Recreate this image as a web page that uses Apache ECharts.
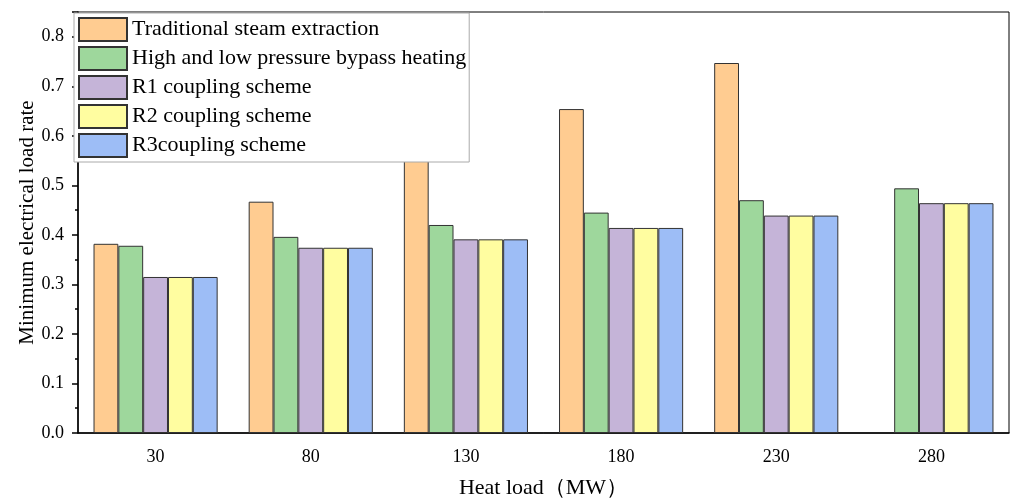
<!DOCTYPE html>
<html lang="en">
<head>
<meta charset="UTF-8" />
<title>Minimum electrical load rate</title>
<script src="https://cdn.jsdelivr.net/npm/echarts@6/dist/echarts.min.js"></script>
<style type="text/css">
html, body { margin:0; padding:0; background:#fff; }
#main { width:1011px; height:500px; }
</style>
</head>
<body>
<div id="main"></div>
<script type="text/javascript">
// data
var heatLoad = ['30', '80', '130', '180', '230', '280'];
var names = ['Traditional steam extraction', 'High and low pressure bypass heating',
             'R1 coupling scheme', 'R2 coupling scheme', 'R3coupling scheme'];
var traditional = [0.382, 0.467, 0.560, 0.654, 0.747, '-'];
var bypass      = [0.378, 0.396, 0.420, 0.445, 0.470, 0.494];
var r1          = [0.315, 0.374, 0.391, 0.414, 0.439, 0.464];
var r2          = [0.315, 0.374, 0.391, 0.414, 0.439, 0.464];
var r3          = [0.315, 0.374, 0.391, 0.414, 0.439, 0.464];
var colors = ['#FFCC91', '#9ED79C', '#C5B4D8', '#FFFDA0', '#9DBDF6'];

var font = 'Liberation Serif, Times New Roman, serif';
var allData = [traditional, bypass, r1, r2, r3];
var series = [];
for (var i = 0; i < names.length; i++) {
	series.push({
		name: names[i],
		type: 'bar',
		xAxisIndex: 0,
		barGap: '0%',
		barCategoryGap: '20%',
		itemStyle: { color: colors[i], borderColor: '#333', borderWidth: 1 },
		data: allData[i]
	});
}

var myChart = echarts.init(document.getElementById('main'));
myChart.setOption({
	animation: false,
	textStyle: { fontFamily: font },
	grid: {
		left: 78, right: 2, top: 12, bottom: 67,
		outerBoundsMode: 'none', containLabel: false,
		show: true, borderColor: '#000', borderWidth: 1
	},
	legend: {
		orient: 'vertical',
		left: 74, top: 13,
		itemWidth: 48, itemHeight: 23, itemGap: 4,
		padding: [4, 3, 4, 4],
		backgroundColor: '#fff',
		borderColor: '#aaa', borderWidth: 1, borderRadius: 0,
		icon: 'rect',
		textStyle: { fontFamily: font, fontSize: 22, lineHeight: 23, color: '#000' },
		data: names
	},
	xAxis: [
		{
			type: 'category',
			data: heatLoad,
			name: 'Heat load（MW）',
			nameLocation: 'middle',
			nameGap: 44,
			nameMoveOverlap: false,
			nameTextStyle: { fontFamily: font, fontSize: 22, color: '#000' },
			axisLine: { lineStyle: { color: '#000', width: 1.5 } },
			axisTick: { alignWithLabel: true, length: 6, lineStyle: { color: '#000', width: 1.5 } },
			axisLabel: { fontFamily: font, fontSize: 18, color: '#000', margin: 15 }
		},
		{
			type: 'category',
			data: heatLoad,
			position: 'bottom',
			axisLine: { show: false },
			axisTick: { length: 3, lineStyle: { color: '#000', width: 1.5 } },
			axisLabel: { show: false }
		}
	],
	yAxis: {
		type: 'value',
		min: 0, max: 0.85, interval: 0.1,
		name: 'Minimum electrical load rate',
		nameLocation: 'middle',
		nameGap: 40,
		nameMoveOverlap: false,
		nameTextStyle: { fontFamily: font, fontSize: 21, color: '#000' },
		axisLine: { show: true, lineStyle: { color: '#000', width: 1.5 } },
		axisTick: { show: true, length: 6, lineStyle: { color: '#000', width: 1.5 } },
		minorTick: { show: true, splitNumber: 2, length: 3, lineStyle: { color: '#000', width: 1.5 } },
		splitLine: { show: false },
		axisLabel: {
			fontFamily: font, fontSize: 18, color: '#000', margin: 14, showMaxLabel: false,
			formatter: function (v) { return v.toFixed(1); }
		}
	},
	series: series
});
</script>
</body>
</html>
